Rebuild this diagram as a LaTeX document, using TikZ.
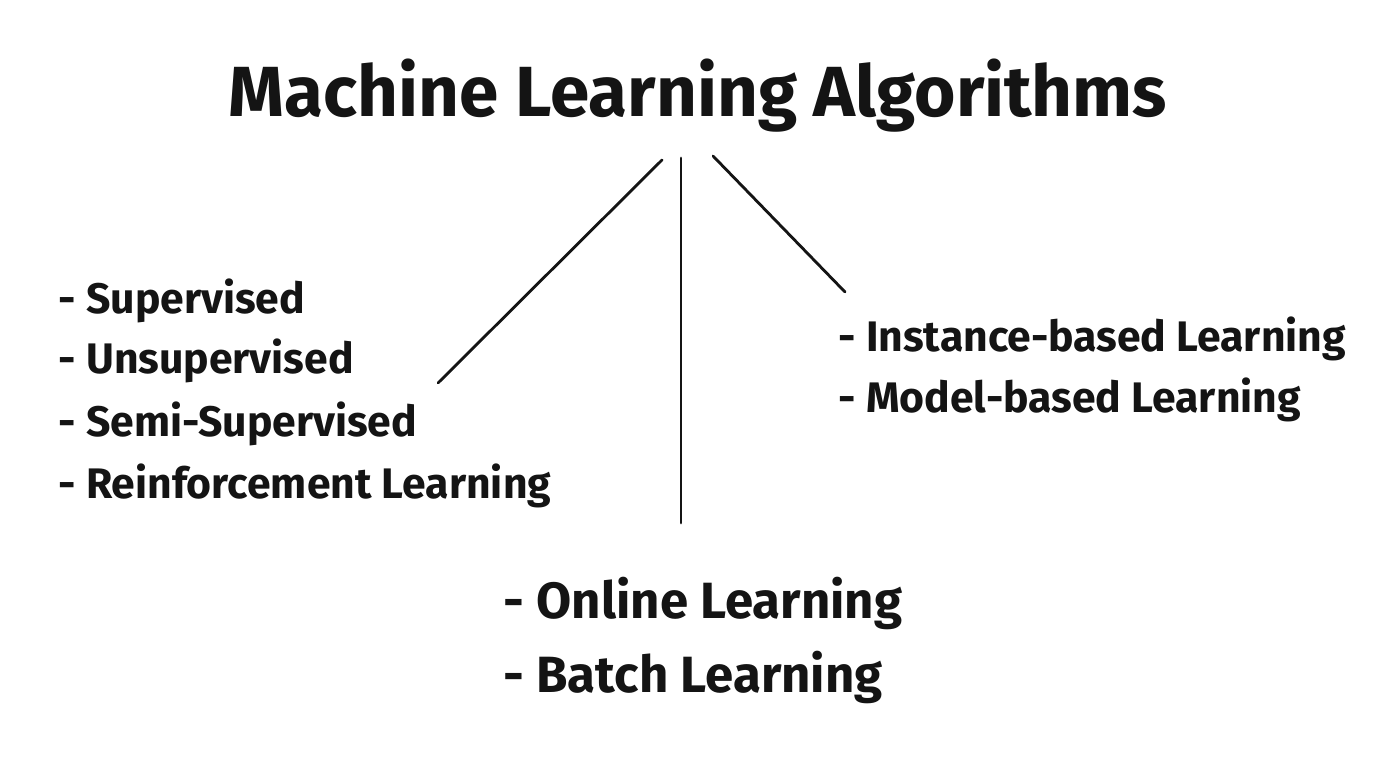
\documentclass[tikz,border=0pt]{standalone}
\usepackage{fontspec}
\usepackage{tikz}
\usepackage{xcolor}
\setmainfont{Fira Sans}
\usetikzlibrary{positioning, calc}
\definecolor{mlInk}{RGB}{20,20,20}

\begin{document}
\begin{tikzpicture}[
      heading/.style={font=\bfseries\fontsize{20.2}{24}\selectfont, text=mlInk, anchor=base},
      item/.style={font=\bfseries\fontsize{12.15}{15}\selectfont, text=mlInk, anchor=base west, inner sep=0pt},
      bigitem/.style={font=\bfseries\fontsize{14.5}{18}\selectfont, text=mlInk, anchor=base west, inner sep=0pt},
      branch/.style={thick, draw=mlInk, line cap=round}
    ]
    \useasboundingbox[fill=white] (0,0) rectangle (14,7.59);

    \node[heading] (title) at (6.98,6.42) {Machine Learning Algorithms};

    % learning styles on the left
    \foreach \y/\t [count=\i] in {4.45/Supervised,3.85/Unsupervised,3.22/Semi-Supervised,2.60/Reinforcement Learning} {
      \node[item] (style\i) at (0.58,\y) {- \t};
    }
    % generalisation on the right
    \node[item] (inst) at (8.38,4.07) {- Instance-based Learning};
    \node[item] (model) at (8.38,3.46) {- Model-based Learning};
    % incremental learning below
    \node[bigitem] (online) at (5.03,1.41) {- Online Learning};
    \node[bigitem] (batch) at (5.03,0.67) {- Batch Learning};

    \coordinate (leftTop) at (6.62,5.99);
    \coordinate (leftEnd) at (4.38,3.76);
    \coordinate (midTop) at (6.81,6.01);
    \coordinate (midEnd) at (6.81,2.36);
    \coordinate (rightTop) at (7.13,6.03);
    \coordinate (rightEnd) at (8.45,4.67);

    \draw[branch] (leftTop) -- (leftEnd);
    \draw[branch] (midTop) -- (midEnd);
    \draw[branch] (rightTop) -- (rightEnd);
  \end{tikzpicture}
\end{document}
